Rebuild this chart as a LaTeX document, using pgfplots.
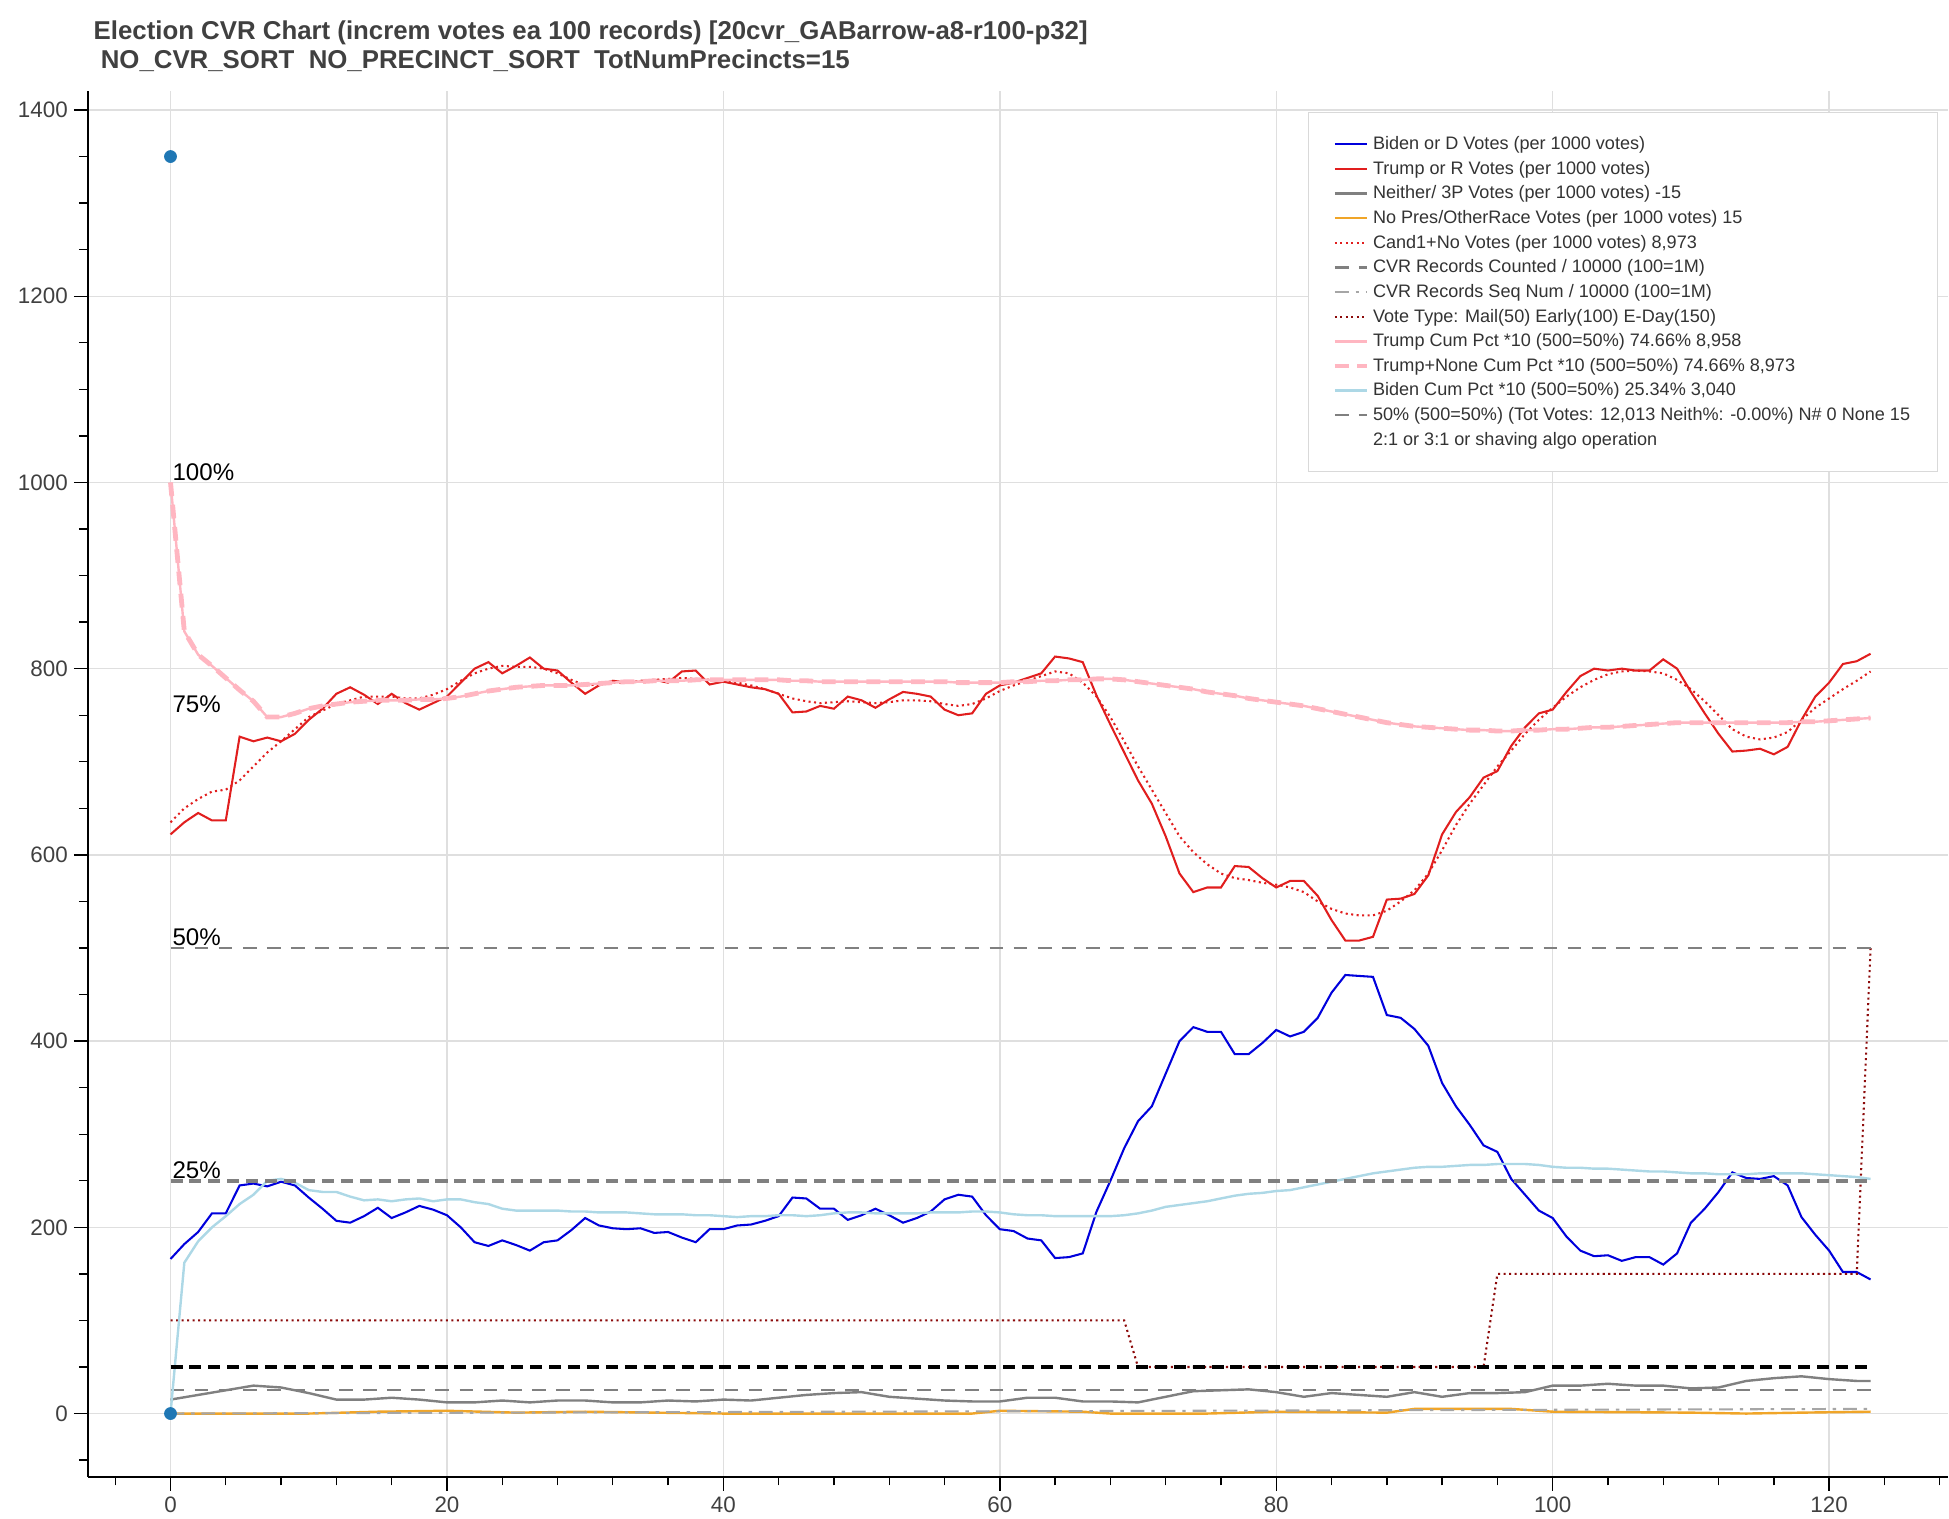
\documentclass[border=0pt]{standalone}
\usepackage{fontspec}
\setmainfont{Liberation Sans}
\usepackage{pgfplots}
\usepackage{pgfplotstable}
\pgfplotsset{compat=1.18}
\definecolor{bdn}{RGB}{0,0,220}
\definecolor{trp}{RGB}{225,30,30}
\definecolor{pinkc}{RGB}{255,182,193}
\definecolor{lblue}{RGB}{173,216,230}
\definecolor{dred}{RGB}{140,10,10}
\definecolor{orng}{RGB}{240,165,40}
\pgfplotstableread{
x b t c
0 166 622 635
1 182 635 650
2 195 645 660
3 215 637 668
4 215 637 670
5 245 727 680
6 247 722 695
7 244 726 710
8 249 722 722
9 245 730 735
10 232 745 748
11 220 757 755
12 207 773 762
13 205 780 766
14 212 772 770
15 221 762 770
16 210 773 770
17 216 763 768
18 223 756 768
19 219 763 772
20 213 770 778
21 200 785 787
22 184 800 795
23 180 807 800
24 186 795 803
25 181 803 802
26 175 812 802
27 184 800 800
28 186 798 795
29 197 785 788
30 210 773 782
31 202 782 783
32 199 787 785
33 198 785 785
34 199 786 787
35 194 788 788
36 195 785 789
37 189 797 790
38 184 798 789
39 198 783 788
40 198 786 787
41 202 783 785
42 203 780 782
43 207 778 778
44 212 773 773
45 232 753 768
46 231 754 765
47 220 760 763
48 220 757 764
49 208 770 765
50 213 766 764
51 220 758 763
52 213 767 764
53 205 775 766
54 210 773 766
55 217 770 765
56 230 756 762
57 235 750 760
58 233 752 762
59 213 773 768
60 198 782 776
61 196 785 782
62 188 790 787
63 186 795 792
64 167 813 797
65 168 811 795
66 172 807 785
67 217 771 770
68 250 740 748
69 285 710 722
70 314 680 695
71 330 655 670
72 365 620 645
73 400 580 620
74 415 560 603
75 410 565 590
76 410 565 580
77 386 588 575
78 386 587 573
79 398 575 570
80 412 565 568
81 405 572 565
82 410 572 560
83 425 556 550
84 452 530 542
85 471 508 537
86 470 508 535
87 469 512 535
88 428 552 540
89 425 553 550
90 413 558 562
91 395 578 580
92 355 622 605
93 330 646 632
94 310 662 655
95 288 683 675
96 281 690 695
97 252 717 712
98 235 737 730
99 218 752 745
100 210 756 758
101 190 775 770
102 175 792 780
103 169 800 788
104 170 798 794
105 164 800 797
106 168 798 798
107 168 798 797
108 160 810 795
109 172 800 788
110 205 775 778
111 220 752 765
112 238 730 750
113 259 711 735
114 253 712 727
115 252 714 724
116 255 708 726
117 245 716 732
118 211 745 745
119 192 770 758
120 175 785 768
121 152 805 778
122 152 808 787
123 144 816 797
}\main
\pgfplotstableread{
x tc bc
0 1000 0
1 840 162
2 815 185
3 803 200
4 790 212
5 777 225
6 765 235
7 748 250
8 748 252
9 752 248
10 757 240
11 760 238
12 762 238
13 764 233
14 765 229
15 766 230
16 766 228
17 766 230
18 767 231
19 767 228
20 768 230
21 770 230
22 773 227
23 776 225
24 778 220
25 780 218
26 781 218
27 782 218
28 782 218
29 782 217
30 783 217
31 784 216
32 785 216
33 786 216
34 786 215
35 787 214
36 787 214
37 787 214
38 788 213
39 788 213
40 788 212
41 788 211
42 788 212
43 788 212
44 788 213
45 787 213
46 787 212
47 786 213
48 786 215
49 786 216
50 786 216
51 786 215
52 786 215
53 786 215
54 786 215
55 786 216
56 786 216
57 785 216
58 785 217
59 785 217
60 785 216
61 786 214
62 786 213
63 787 213
64 787 212
65 788 212
66 788 212
67 789 212
68 789 212
69 788 213
70 786 215
71 784 218
72 782 222
73 780 224
74 778 226
75 775 228
76 773 231
77 771 234
78 768 236
79 766 237
80 764 239
81 762 240
82 760 243
83 757 246
84 754 249
85 751 252
86 748 255
87 745 258
88 742 260
89 740 262
90 738 264
91 737 265
92 736 265
93 735 266
94 734 267
95 734 267
96 733 268
97 733 268
98 734 268
99 734 267
100 735 265
101 735 264
102 736 264
103 737 263
104 737 263
105 738 262
106 739 261
107 740 260
108 741 260
109 742 259
110 742 258
111 742 258
112 742 257
113 742 257
114 742 257
115 742 258
116 742 258
117 742 258
118 743 258
119 743 257
120 744 256
121 745 255
122 746 254
123 747 252
}\cum
\begin{document}
\begin{tikzpicture}
\begin{axis}[
  scale only axis, width=38.0cm, height=28.3cm,
  xmin=-6, xmax=128.6, ymin=-68, ymax=1420,
  axis x line*=bottom, axis y line*=left,
  axis line style={black, line width=1.2pt},
  xtick={0,20,...,120}, minor xtick={-4,4,8,...,128},
  ytick={0,200,...,1400}, minor ytick={-50,50,100,...,1400},
  tick align=outside, major tick length=8pt, minor tick length=5pt,
  tick style={black, line width=0.8pt},
  grid=major, grid style={gray!25, line width=0.8pt},
  ticklabel style={font=\fontsize{13}{15}\selectfont, text=black!75},
  /pgf/number format/assume math mode=true,
  /pgf/number format/1000 sep={},
  title style={at={(0,1)}, anchor=south west, align=left, font=\bfseries\fontsize{15}{17}\selectfont, text=black!75, yshift=2pt},
  title={Election CVR Chart (increm votes ea 100 records) [20cvr\_GABarrow-a8-r100-p32]\\ \ NO\_CVR\_SORT\ \ NO\_PRECINCT\_SORT\ \ TotNumPrecincts=15},
  legend style={at={(0.656,0.985)}, anchor=north west, draw=gray!30, fill=white,
    font=\fontsize{10.5}{12}\selectfont, text=black!80, row sep=1.2pt, inner xsep=14pt, inner ysep=12pt},
  legend cell align=left,
  legend image post style={xscale=1.1},
]
\addplot[bdn, line width=1.2pt] table[x=x,y=b]{\main};
\addlegendentry{Biden or D Votes (per 1000 votes)}
\addplot[trp, line width=1.2pt] table[x=x,y=t]{\main};
\addlegendentry{Trump or R Votes (per 1000 votes)}
\addplot[gray, line width=1.4pt] coordinates {(0,15)(2,20)(4,25)(6,30)(8,28)(10,22)(12,15)(14,15)(16,17)(18,15)(20,12)(22,12)(24,14)(26,12)(28,14)(30,14)(32,12)(34,12)(36,14)(38,13)(40,15)(42,14)(44,17)(46,20)(48,22)(50,23)(52,18)(54,16)(56,14)(58,13)(60,13)(62,17)(64,17)(66,13)(68,13)(70,12)(72,18)(74,24)(76,25)(78,26)(80,23)(82,18)(84,22)(86,20)(88,18)(90,23)(92,18)(94,22)(96,22)(98,23)(100,30)(102,30)(104,32)(106,30)(108,30)(110,27)(112,28)(114,35)(116,38)(118,40)(120,37)(122,35)(123,35)};
\addlegendentry{Neither/ 3P Votes (per 1000 votes) -15}
\addplot[orng, line width=1.4pt] coordinates {(0,0)(10,0)(15,2)(20,3)(25,1)(30,2)(40,0)(50,0)(58,0)(60,3)(66,2)(68,0)(75,0)(80,2)(88,1)(90,5)(97,5)(100,2)(110,1)(114,0)(118,1)(123,2)};
\addlegendentry{No Pres/OtherRace Votes (per 1000 votes) 15}
\addplot[trp, line width=1.2pt, dotted] table[x=x,y=c]{\main};
\addlegendentry{Cand1+No Votes (per 1000 votes) 8,973}
\addplot[gray, line width=1.2pt, dashed, dash pattern=on 8pt off 6pt] coordinates {(0,25)(123,25)};
\addlegendentry{CVR Records Counted / 10000 (100=1M)}
\addplot[gray!70, line width=1.2pt, dash pattern=on 8pt off 4pt on 2pt off 4pt] coordinates {(0,0)(123,5)};
\addlegendentry{CVR Records Seq Num / 10000 (100=1M)}
\addplot[dred, line width=1.2pt, dotted] coordinates {(0,100)(69,100)(70,50)(95,50)(96,150)(122,150)(123,500)};
\addlegendentry{Vote Type: Mail(50) Early(100) E-Day(150)}
\addplot[pinkc, line width=1.4pt] table[x=x,y=tc]{\cum};
\addlegendentry{Trump Cum Pct *10 (500=50\%) 74.66\% 8,958}
\addplot[pinkc, line width=2.8pt, dashed, dash pattern=on 8pt off 5pt] table[x=x,y=tc]{\cum};
\addlegendentry{Trump+None Cum Pct *10 (500=50\%) 74.66\% 8,973}
\addplot[lblue, line width=1.4pt] table[x=x,y=bc]{\cum};
\addlegendentry{Biden Cum Pct *10 (500=50\%) 25.34\% 3,040}
\addplot[gray, line width=1.2pt, dash pattern=on 8pt off 6pt] coordinates {(0,500)(123,500)};
\addlegendentry{50\% (500=50\%) (Tot Votes: 12,013 Neith\%: -0.00\%) N\# 0 None 15}
\addlegendimage{empty legend}
\addlegendentry{2:1 or 3:1 or shaving algo operation}
\addplot[gray, line width=2.6pt, dash pattern=on 7pt off 4pt, forget plot] coordinates {(0,250)(123,250)};
\addplot[black, line width=2.2pt, dash pattern=on 7pt off 4pt, forget plot] coordinates {(0,50)(123,50)};
\addplot[only marks, mark=*, mark size=3.5pt, color={rgb,255:red,31;green,119;blue,180}, forget plot] coordinates {(0,1350)(0,0)};
\node[anchor=south west, font=\fontsize{14}{16}\selectfont, inner sep=1pt] at (axis cs:0,1000) {100\%};
\node[anchor=south west, font=\fontsize{14}{16}\selectfont, inner sep=1pt] at (axis cs:0,750) {75\%};
\node[anchor=south west, font=\fontsize{14}{16}\selectfont, inner sep=1pt] at (axis cs:0,500) {50\%};
\node[anchor=south west, font=\fontsize{14}{16}\selectfont, inner sep=1pt] at (axis cs:0,250) {25\%};
\end{axis}
\path (current bounding box.north west) ++(-0.25cm,0.3cm) coordinate (a);
\path[use as bounding box] (a) rectangle (current bounding box.south east);
\end{tikzpicture}
\end{document}
